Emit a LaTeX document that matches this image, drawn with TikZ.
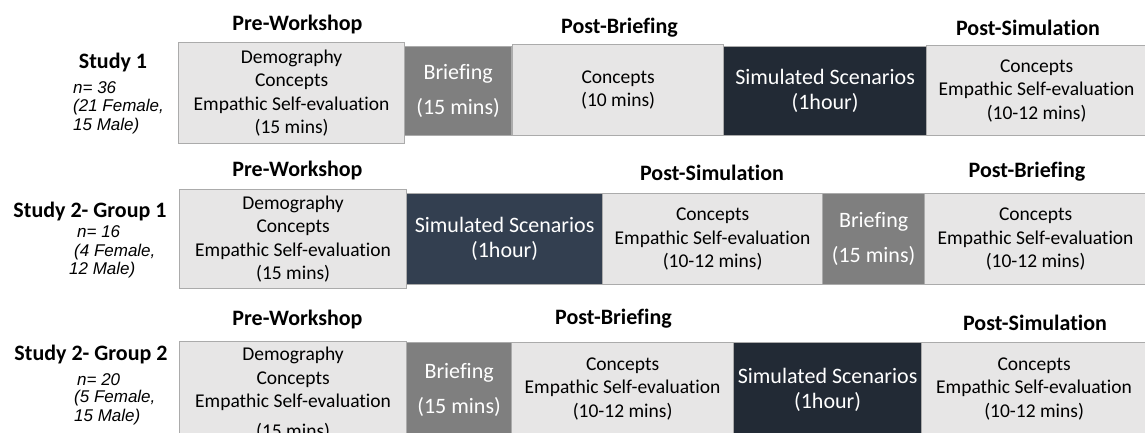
\documentclass[tikz,border=0pt]{standalone}
\usepackage{fontspec}
\setmainfont{Carlito}[Ligatures={NoCommon}]
\newfontfamily\cohortfont{Liberation Sans}
\definecolor{lightfill}{HTML}{E7E6E6}
\definecolor{boxline}{HTML}{ABABAB}
\definecolor{brieffill}{HTML}{7F7F7F}
\definecolor{simdeep}{HTML}{222A35}
\definecolor{simmid}{HTML}{333F50}
\tikzset{
  stage/.style={draw=boxline, line width=1.2pt, inner sep=0pt, anchor=north west, align=center},
  light/.style={stage, fill=lightfill, text=black, font=\fontsize{19.5}{23.5}\selectfont},
  brief/.style={stage, fill=brieffill, text=white, font=\fontsize{22}{26}\selectfont},
  simA/.style={stage, fill=simdeep, text=white, font=\fontsize{22}{25}\selectfont},
  simB/.style={stage, fill=simmid, text=white, font=\fontsize{22}{25}\selectfont},
  phase/.style={inner sep=0pt, font=\fontsize{22}{26}\selectfont\bfseries},
  cohort/.style={inner sep=0pt, anchor=west, font=\cohortfont\itshape\fontsize{17}{19.5}\selectfont}
}
% box given by its left, top, right and bottom edges
\newcommand\stagebox[7]{%
  \node[#1, minimum width={(#4-#2)*1pt}, minimum height={(#5-#3)*1pt}] (#6) at (#2,#3) {#7};}
\begin{document}
\begin{tikzpicture}[x=1pt,y=-1pt]
\useasboundingbox (0,0) rectangle (1145,432);
\clip (0,0) rectangle (1145,432);

% Study 1
\node[phase] (s1) at (113,63) {Study 1};
\node[cohort] (s1n) at (73,88) {n= 36};
\node[cohort] (s1f) at (73,107) {(21 Female,};
\node[cohort] (s1m) at (73,126) {15 Male)};
\node[phase] (t1a) at (297.5,25) {Pre-Workshop};
\node[phase] (t1b) at (619.5,28) {Post-Briefing};
\node[phase] (t1c) at (1028,28) {Post-Simulation};
\stagebox{light}{178}{42}{404}{143}{pre1}{Demography\\Concepts\\Empathic Self-evaluation\\(15 mins)}
\stagebox{brief}{404}{46}{511}{135}{brf1}{Briefing\\[9pt](15 mins)}
\stagebox{light}{512}{44}{723}{135}{cpt1}{Concepts\\(10 mins)}
\stagebox{simA}{723}{46}{926}{135}{sim1}{Simulated Scenarios\\(1hour)}
\stagebox{light}{926}{45}{1146}{135}{pst1}{Concepts\\Empathic Self-evaluation\\(10-12 mins)}

% Study 2, group 1
\node[phase] (s2) at (90,212) {Study 2- Group 1};
\node[cohort] (s2n) at (77,232) {n= 16};
\node[cohort] (s2f) at (74,252) {(4 Female,};
\node[cohort] (s2m) at (69,270) {12 Male)};
\node[phase] (t2a) at (297.5,171) {Pre-Workshop};
\node[phase] (t2b) at (712,173) {Post-Simulation};
\node[phase] (t2c) at (1027,172) {Post-Briefing};
\stagebox{light}{179}{189}{406}{288}{pre2}{Demography\\Concepts\\Empathic Self-evaluation\\(15 mins)}
\stagebox{simB}{406}{193}{602}{284}{sim2}{Simulated Scenarios\\(1hour)}
\stagebox{light}{602}{193}{822}{284}{cpt2}{Concepts\\Empathic Self-evaluation\\(10-12 mins)}
\stagebox{brief}{822}{193}{924}{284}{brf2}{Briefing\\[9pt](15 mins)}
\stagebox{light}{924}{193}{1146}{284}{pst2}{Concepts\\Empathic Self-evaluation\\(10-12 mins)}

% Study 2, group 2
\node[phase] (s3) at (91,355) {Study 2- Group 2};
\node[cohort] (s3n) at (77,380) {n= 20};
\node[cohort] (s3f) at (74,398) {(5 Female,};
\node[cohort] (s3m) at (74,417) {15 Male)};
\node[phase] (t3a) at (297.5,320) {Pre-Workshop};
\node[phase] (t3b) at (613.5,319) {Post-Briefing};
\node[phase] (t3c) at (1035,323) {Post-Simulation};
\stagebox{light}{179}{341}{406}{445}{pre3}{Demography\\Concepts\\Empathic Self-evaluation\\[6pt](15 mins)}
\stagebox{brief}{406}{342}{511}{436}{brf3}{Briefing\\[9pt](15 mins)}
\stagebox{light}{511}{342}{733}{434}{cpt3}{Concepts\\Empathic Self-evaluation\\(10-12 mins)}
\stagebox{simA}{733}{342}{921}{436}{sim3}{Simulated Scenarios\\(1hour)}
\stagebox{light}{921}{342}{1146}{434}{pst3}{Concepts\\Empathic Self-evaluation\\(10-12 mins)}
\end{tikzpicture}
\end{document}
